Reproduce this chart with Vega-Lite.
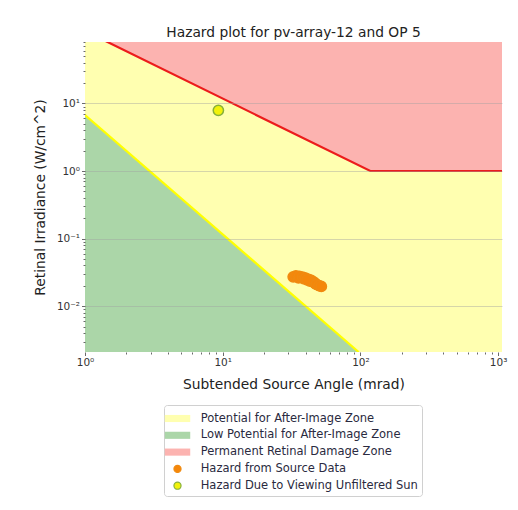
{
  "$schema": "https://vega.github.io/schema/vega-lite/v6.json",
  "autosize": "none",
  "width": 417,
  "height": 310,
  "padding": {"left": 85, "top": 42, "right": 16, "bottom": 158},
  "background": "white",
  "title": {"text": "Hazard plot for pv-array-12 and OP 5", "font": "DejaVu Sans", "fontSize": 13.8, "fontWeight": "normal", "color": "#222222", "offset": -2, "anchor": "middle", "frame": "group"},
  "config": {
    "view": {"stroke": null},
    "axis": {"labelFont": "DejaVu Sans", "titleFont": "DejaVu Sans", "labelColor": "#333333", "titleColor": "#222222", "titleFontWeight": "normal", "labelFontSize": 10.5, "titleFontSize": 13.8, "domain": false, "tickColor": "#444444", "tickWidth": 0.8, "labelOverlap": false, "labelFlush": false},
    "legend": {"labelFont": "DejaVu Sans", "labelFontSize": 11.5, "labelColor": "#2a2a40", "labelLimit": 0}
  },
  "datasets": {
    "zone_all": [{"x": 1, "x2": 1067, "y": 0.0021, "y2": 81, "zone": "Potential for After-Image Zone"}],
    "zone_low": [
      {"x": 1, "y": 6.7, "zone": "Low Potential for After-Image Zone"},
      {"x": 97, "y": 0.0021, "zone": "Low Potential for After-Image Zone"}
    ],
    "zone_perm": [
      {"x": 1, "y": 118, "zone": "Permanent Retinal Damage Zone"},
      {"x": 118, "y": 1, "zone": "Permanent Retinal Damage Zone"},
      {"x": 1067, "y": 1, "zone": "Permanent Retinal Damage Zone"}
    ],
    "points": [
      {"x": 32.5, "y": 0.0272, "zone": "Hazard from Source Data"},
      {"x": 34, "y": 0.028, "zone": "Hazard from Source Data"},
      {"x": 35.5, "y": 0.0262, "zone": "Hazard from Source Data"},
      {"x": 36, "y": 0.0276, "zone": "Hazard from Source Data"},
      {"x": 38, "y": 0.027, "zone": "Hazard from Source Data"},
      {"x": 39, "y": 0.0255, "zone": "Hazard from Source Data"},
      {"x": 40, "y": 0.026, "zone": "Hazard from Source Data"},
      {"x": 42, "y": 0.025, "zone": "Hazard from Source Data"},
      {"x": 43, "y": 0.0236, "zone": "Hazard from Source Data"},
      {"x": 44, "y": 0.024, "zone": "Hazard from Source Data"},
      {"x": 46, "y": 0.0226, "zone": "Hazard from Source Data"},
      {"x": 47, "y": 0.0216, "zone": "Hazard from Source Data"},
      {"x": 48, "y": 0.021, "zone": "Hazard from Source Data"},
      {"x": 50, "y": 0.0201, "zone": "Hazard from Source Data"},
      {"x": 52, "y": 0.0196, "zone": "Hazard from Source Data"},
      {"x": 41, "y": 0.0245, "zone": "Hazard from Source Data"},
      {"x": 9.3, "y": 7.9, "zone": "Hazard Due to Viewing Unfiltered Sun"}
    ]
  },
  "encoding": {
    "x": {"field": "x", "type": "quantitative",
      "scale": {"type": "log", "domain": [1, 1067], "nice": false},
      "axis": {"title": "Subtended Source Angle (mrad)", "titlePadding": 9, "grid": false,
        "values": [1,2,3,4,5,6,7,8,9,10,20,30,40,50,60,70,80,90,100,200,300,400,500,600,700,800,900,1000],
        "tickSize": {"condition": {"test": "abs(log(datum.value)/LN10 - round(log(datum.value)/LN10)) < 0.001", "value": 3.5}, "value": 2},
        "labelExpr": "abs(log(datum.value)/LN10 - round(log(datum.value)/LN10)) < 0.001 ? ('10' + (round(log(datum.value)/LN10) == 0 ? '⁰' : round(log(datum.value)/LN10) == 1 ? '¹' : round(log(datum.value)/LN10) == 2 ? '²' : '³')) : ''"}},
    "y": {"field": "y", "type": "quantitative",
      "scale": {"type": "log", "domain": [0.0021, 81], "nice": false},
      "axis": {"title": "Retinal Irradiance (W/cm^2)", "titlePadding": 9, "grid": true, "zindex": 1,
        "gridColor": "#a0a0a0", "gridWidth": 0.8,
        "gridOpacity": {"condition": {"test": "abs(log(datum.value)/LN10 - round(log(datum.value)/LN10)) < 0.001", "value": 0.55}, "value": 0},
        "values": [0.003,0.004,0.005,0.006,0.007,0.008,0.009,0.01,0.02,0.03,0.04,0.05,0.06,0.07,0.08,0.09,0.1,0.2,0.3,0.4,0.5,0.6,0.7,0.8,0.9,1,2,3,4,5,6,7,8,9,10,20,30,40,50,60,70,80],
        "tickSize": {"condition": {"test": "abs(log(datum.value)/LN10 - round(log(datum.value)/LN10)) < 0.001", "value": 3.5}, "value": 2},
        "labelExpr": "abs(log(datum.value)/LN10 - round(log(datum.value)/LN10)) < 0.001 ? ('10' + (round(log(datum.value)/LN10) == -2 ? '⁻²' : round(log(datum.value)/LN10) == -1 ? '⁻¹' : round(log(datum.value)/LN10) == 0 ? '⁰' : '¹')) : ''"}}
  },
  "layer": [
    {
      "data": {"name": "zone_all"},
      "mark": {"type": "rect", "clip": true},
      "encoding": {
        "x2": {"field": "x2"},
        "y2": {"field": "y2"},
        "color": {"field": "zone", "type": "nominal",
          "scale": {"domain": ["Potential for After-Image Zone", "Low Potential for After-Image Zone", "Permanent Retinal Damage Zone", "Hazard from Source Data", "Hazard Due to Viewing Unfiltered Sun"],
                    "range": ["#ffffb0", "#abd6a8", "#fcb3b0", "#f5870a", "#f2f20a"]},
          "legend": {"title": null, "orient": "none", "legendX": 79, "legendY": 363, "direction": "vertical",
            "strokeColor": "#d0d0d0", "fillColor": "white", "cornerRadius": 3, "padding": 4, "rowPadding": 0.8,
            "symbolSize": 300, "labelOffset": 13.7, "symbolStrokeWidth": 1.2}}
      }
    },
    {
      "data": {"name": "zone_low"},
      "mark": {"type": "area", "clip": true},
      "encoding": {
        "y2": {"datum": 0.0021},
        "color": {"field": "zone", "type": "nominal"}
      }
    },
    {
      "data": {"name": "zone_perm"},
      "mark": {"type": "area", "clip": true},
      "encoding": {
        "y2": {"datum": 81},
        "color": {"field": "zone", "type": "nominal"}
      }
    },
    {
      "data": {"name": "zone_low"},
      "mark": {"type": "line", "clip": true, "color": "#ffff00", "strokeWidth": 2.2},
      "encoding": {}
    },
    {
      "data": {"name": "zone_perm"},
      "mark": {"type": "line", "clip": true, "color": "#ec1c1c", "strokeWidth": 2.2},
      "encoding": {}
    },
    {
      "data": {"name": "points"},
      "mark": {"type": "point", "filled": true, "size": 630, "opacity": 1, "strokeWidth": 1.5},
      "encoding": {
        "color": {"field": "zone", "type": "nominal"},
        "shape": {"field": "zone", "type": "nominal",
          "scale": {"domain": ["Potential for After-Image Zone", "Low Potential for After-Image Zone", "Permanent Retinal Damage Zone", "Hazard from Source Data", "Hazard Due to Viewing Unfiltered Sun"],
                    "range": ["M-1.47,-0.41H1.47V0.41H-1.47Z", "M-1.47,-0.41H1.47V0.41H-1.47Z", "M-1.47,-0.41H1.47V0.41H-1.47Z", "M-0.41,0A0.41,0.41,0,1,0,0.41,0A0.41,0.41,0,1,0,-0.41,0Z", "M-0.41,0A0.41,0.41,0,1,0,0.41,0A0.41,0.41,0,1,0,-0.41,0Z"]}},
        "stroke": {"field": "zone", "type": "nominal",
          "scale": {"domain": ["Potential for After-Image Zone", "Low Potential for After-Image Zone", "Permanent Retinal Damage Zone", "Hazard from Source Data", "Hazard Due to Viewing Unfiltered Sun"],
                    "range": ["transparent", "transparent", "transparent", "#f08a10", "#86b03a"]}}
      }
    }
  ]
}
